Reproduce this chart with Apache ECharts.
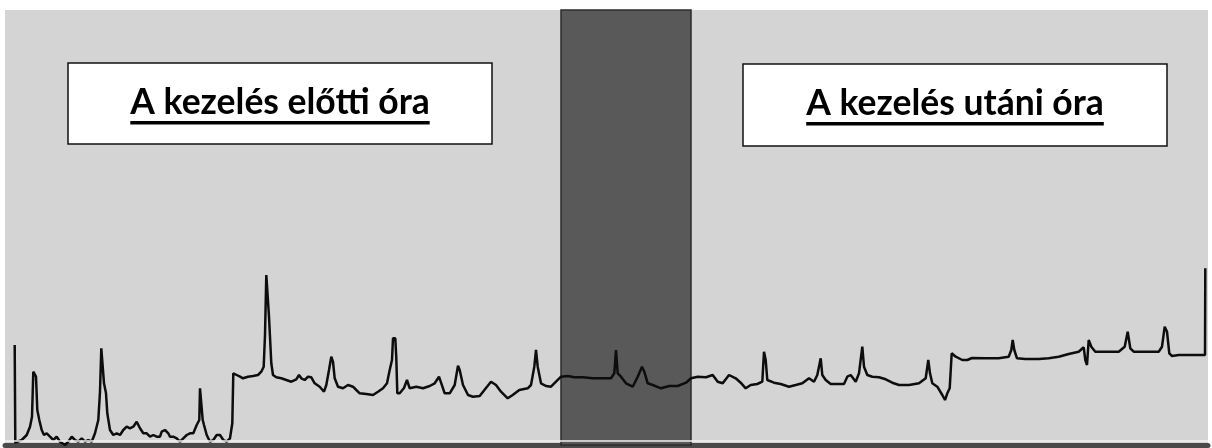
<!DOCTYPE html>
<html>
<head>
<meta charset="utf-8">
<script src="https://cdn.jsdelivr.net/npm/echarts@6/dist/echarts.min.js"></script>
<style>
  html, body { margin: 0; padding: 0; background: #fff; }
  #chart { width: 1212px; height: 448px; }
</style>
</head>
<body>
<div id="chart"></div>
<script>
// mintavétel ideje (tengely-egység) és aktivitás szintje, a képről leolvasva
// kezelés előtti szakasz
var beforeTime = [14.7, 15.3, 16.7, 21.7, 26.7, 30, 32, 33.3, 34.7, 36, 37.3, 39.3, 41.7, 44, 46.7, 50, 53.3, 56.7, 60, 65,
    68.3, 71.7, 75, 78.3, 81.7, 85, 88.3, 91.7, 95, 98.3, 100, 101.3, 102.7, 104, 106, 107.3, 110, 113.3, 116.7, 120,
    123.3, 126.7, 130, 133.3, 136.7, 138.3, 140, 143.3, 146.7, 150, 153.3, 156.7, 160, 161.7, 165, 168.3, 170, 173.3, 176.7, 180,
    183.3, 186.7, 190, 193.3, 196.7, 199.3, 200, 201.7, 202.7, 204, 206.7, 210, 213.3, 216.7, 220, 223.3, 226.7, 230, 232.3, 233.3,
    235, 236.7, 240, 243, 248, 253, 258, 261.3, 263.7, 265, 266.3, 268, 269, 270.3, 271.3, 273, 276.3, 281.3, 286.3, 291.3,
    296.3, 299, 301.3, 304.7, 308, 311.3, 314.7, 319.7, 324, 326.3, 329, 331.3, 333, 334.7, 338, 343, 348, 353, 356.3, 359.7,
    366.3, 373, 378, 383, 387, 389.7, 392, 393, 395.3, 396.3, 397.3, 399.7, 404, 407, 409.7, 416.3, 423, 429.7, 434.7, 439,
    441.3, 444.7, 449.7, 454.7, 458, 459.7, 463, 468, 473, 479.7, 486, 491, 496, 501, 507.7, 512.7, 519.3, 527.7, 531, 534.3,
    536, 537.7, 541, 546, 551, 556];
var beforeLevel = [100, 2.3, 3.3, 5, 10, 18.3, 28.3, 73.3, 75, 68.3, 35, 25, 15, 10, 11.7, 8.3, 5, 8.3, 3.3, 0,
    3.3, 8.3, 5, 3.3, 6.7, 3.3, 5, 3.3, 11.7, 25, 53.3, 96.7, 96.7, 61.7, 51.7, 31.7, 15, 10, 11.7, 10,
    15, 18.3, 16.7, 18.3, 23.3, 21.7, 16.7, 11.7, 11.7, 8.3, 10, 8.3, 8.3, 13.3, 15, 11.7, 8.3, 8.3, 6.7, 3.3,
    6.7, 10, 11.7, 11.7, 20, 25, 56.7, 56.7, 25, 20, 10, 3.3, 5, 10, 10, 5, 3.3, 6.7, 21.7, 71.7,
    73.3, 70, 68.3, 66.7, 68.3, 69, 70, 73.3, 78.3, 110, 170, 170, 128.3, 128.3, 81.7, 70, 67.7, 66.7, 65, 63.3,
    65.7, 70, 66.7, 65, 68.3, 67.7, 61.7, 58.3, 53.3, 60, 75, 88.3, 83.3, 66.7, 58.3, 56.7, 60, 58.3, 55, 51.7,
    51, 50, 53.3, 56.7, 61.7, 75, 85, 106.7, 106.7, 86.7, 51.7, 51.7, 57, 65, 56.7, 58.3, 56.7, 59, 61.7, 68.3,
    61.7, 51.7, 51.7, 60, 79.3, 75, 60, 50, 48.3, 49, 57, 63.3, 60, 53.3, 46.7, 50, 55, 56.7, 60, 78.3,
    95, 78.3, 61.7, 59, 58.3, 63.3];
// kezelés alatti szakasz
var duringTime = [561, 567.7, 574.3, 582.7, 592.7, 601, 611, 614.3, 616, 617.7, 621, 626, 632.7, 637.7, 642, 644.3, 647.7, 652.7,
    661, 669.3, 677.7, 686];
var duringLevel = [68.3, 69, 67.7, 67.7, 66.7, 66.7, 66.7, 71.7, 95, 71.7, 68.3, 61.7, 58.3, 68.3, 78.3, 73.3, 61.7, 60,
    56.7, 59, 59, 62.3];
// kezelés utáni szakasz
var afterTime = [691, 697.7, 706, 712.7, 717.7, 722.7, 729, 735.7, 740.7, 745.7, 750.7, 757.3, 762.3, 764, 765.7, 767.3, 774, 780.7,
    789, 795.7, 802.3, 809, 814, 817.3, 820.7, 822.3, 825.7, 830.7, 837.3, 844, 847.3, 850.7, 855.7, 859, 862.3, 864, 867.3,
    872.3, 879, 885.7, 892.3, 899, 909, 919, 925.7, 928.3, 930, 932.3, 937.3, 942.3, 945, 947.3, 949.7, 951.7, 955.7, 962.3,
    967.3, 972, 985.3, 998.7, 1008.7, 1011.3, 1012.7, 1014.3, 1017, 1025.3, 1038.7, 1048.7, 1058.7, 1068.7, 1078.7, 1083.7,
    1085.3, 1087, 1088.7, 1091.3, 1095.3, 1105.3, 1118.7, 1124.7, 1127.7, 1130.3, 1133.7, 1145.3, 1158.7, 1162, 1164.7, 1167,
    1169.3, 1172, 1178.7, 1192, 1205, 1205.3];
var afterLevel = [66.7, 68.3, 67.7, 70, 63.3, 61.7, 70, 66.7, 62.3, 56.7, 60, 61, 63.3, 93.3, 85, 65, 62.3, 61,
    58.3, 60, 61.7, 66.7, 63.3, 70, 86.7, 70, 65, 61, 61, 61, 68.3, 70, 63.3, 71.7, 98.3, 78.3, 70,
    68.3, 67.7, 65.7, 62.3, 60, 60, 61.7, 66.7, 85, 71.7, 61.7, 58.3, 50, 45, 51.7, 56.7, 91.7, 88.3, 85,
    85, 87, 86.7, 86.7, 88.3, 95, 105, 95, 86.7, 86, 86, 86.7, 88.3, 91, 93.3, 97.7,
    85, 80, 105, 98.3, 93.3, 93.3, 93.3, 98.3, 113.3, 96.7, 93.3, 93.3, 93.3, 98.3, 118.3, 113.3,
    91.7, 89, 90, 90, 90, 176.7];

// kezelés időtartama (sötét sáv)
var treatmentRange = [561, 691];
// feliratok
var phaseLabels = ['A kezelés előtti óra', 'A kezelés utáni óra'];

//idősor összeállítása
function buildSeries() {
    var times = beforeTime.concat(duringTime, afterTime);
    var levels = beforeLevel.concat(duringLevel, afterLevel);
    return times.map(function (t, i) {
        return [t, levels[i]];
    });
}

//szöveg szélessége az aláhúzáshoz
function textWidth(text, font) {
    var ctx = document.createElement('canvas').getContext('2d');
    ctx.font = font;
    return ctx.measureText(text).width;
}

//keretes, aláhúzott felirat
function labelBox(text, left, top, width, height) {
    var font = 'bold 35.5px Lato';
    var cx = left + width / 2;
    var w = textWidth(text, font);
    return {
        type: 'group',
        children: [{
            type: 'rect',
            shape: { x: left, y: top, width: width, height: height },
            style: { fill: '#ffffff', stroke: '#111', lineWidth: 1.5 }
        }, {
            type: 'text',
            x: cx,
            y: top + 40,
            style: {
                text: text,
                font: font,
                fill: '#000',
                align: 'center',
                verticalAlign: 'middle',
                textAlign: 'center',
                textVerticalAlign: 'middle'
            }
        }, {
            type: 'rect',
            shape: { x: cx - w / 2, y: top + 58, width: w, height: 3.5 },
            style: { fill: '#000' }
        }]
    };
}

var myChart = echarts.init(document.getElementById('chart'));
var option = {
    animation: false,
    grid: {
        left: 5,
        right: 4,
        top: 10,
        bottom: 3,
        show: true,
        backgroundColor: '#d4d4d4',
        borderWidth: 0
    },
    xAxis: {
        type: 'value',
        min: 5,
        max: 1208,
        axisLine: { show: true, onZero: false, lineStyle: { color: '#4a4a4a', width: 5 } },
        axisTick: { show: false },
        axisLabel: { show: false },
        splitLine: { show: false }
    },
    yAxis: {
        type: 'value',
        min: 0,
        max: 435,
        show: false
    },
    series: [{
        // világos sáv a tengely fölött
        type: 'line',
        data: [],
        z: 1,
        markLine: {
            silent: true,
            symbol: 'none',
            label: { show: false },
            lineStyle: { color: '#f2f2f2', width: 1.5, type: 'solid' },
            data: [{ yAxis: 4 }]
        }
    }, {
        type: 'line',
        data: buildSeries(),
        z: 3,
        symbol: 'none',
        lineStyle: { color: '#0d0d0d', width: 2.5 },
        markArea: {
            silent: true,
            itemStyle: { color: '#595959', borderColor: '#2b2b2b', borderWidth: 1.5, opacity: 1 },
            data: [[{ xAxis: treatmentRange[0] }, { xAxis: treatmentRange[1] }]]
        }
    }],
    graphic: [
        labelBox(phaseLabels[0], 68, 63, 424, 81),
        labelBox(phaseLabels[1], 743, 64, 424, 82)
    ]
};
myChart.setOption(option);
</script>
</body>
</html>
